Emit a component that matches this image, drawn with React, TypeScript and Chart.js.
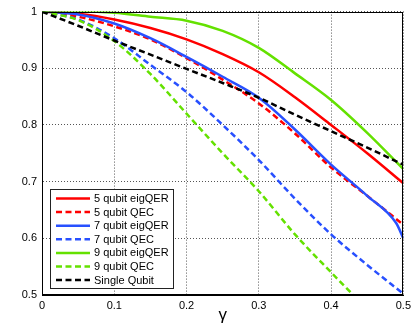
import React, { useEffect, useRef } from 'react';
import { Chart, registerables } from 'chart.js';

Chart.register(...registerables);

const gamma = [0, 0.05, 0.1, 0.15, 0.2, 0.25, 0.3, 0.35, 0.4, 0.45, 0.5];
const gamma7Eig = [0, 0.05, 0.1, 0.15, 0.2, 0.25, 0.3, 0.35, 0.4, 0.45, 0.49, 0.5];

const qubit5Eig = [1, 0.996, 0.986, 0.971, 0.951, 0.925, 0.893, 0.849, 0.8, 0.75, 0.697];
const qubit5QEC = [1, 0.991, 0.974, 0.951, 0.918, 0.88, 0.838, 0.785, 0.725, 0.675, 0.624];
const qubit7Eig = [1, 0.995, 0.979, 0.953, 0.92, 0.885, 0.848, 0.792, 0.73, 0.675, 0.627, 0.6];
const qubit7QEC = [1, 0.986, 0.953, 0.906, 0.858, 0.8, 0.738, 0.67, 0.607, 0.553, 0.502];
const qubit9Eig = [1, 1, 0.998, 0.991, 0.984, 0.966, 0.936, 0.891, 0.844, 0.786, 0.722];
const qubit9QEC = [1, 0.985, 0.948, 0.89, 0.82, 0.75, 0.683, 0.607, 0.54, 0.475, 0.41];
const singleQubit = [1, 0.975, 0.949, 0.924, 0.899, 0.874, 0.848, 0.818, 0.789, 0.76, 0.73];

const seriesLabels = [
  '5 qubit eigQER',
  '5 qubit QEC',
  '7 qubit eigQER',
  '7 qubit QEC',
  '9 qubit eigQER',
  '9 qubit QEC',
  'Single Qubit',
];

const xTickLabels = ['0', '0.1', '0.2', '0.3', '0.4', '0.5'];
const yTickLabels = ['0.5', '0.6', '0.7', '0.8', '0.9', '1'];
const xAxisTitle = 'γ';

const RED = '#ff0000';
const BLUE = '#2850ff';
const GREEN = 'rgb(100,225,0)';
const BLACK = '#000000';
const DASH = [6, 3.5];
const FONT = '"Liberation Sans", Arial, Helvetica, sans-serif';

const toPoints = (xs: number[], ys: number[]) => ys.map((y, i) => ({ x: xs[i], y }));

const frameAndLegend = {
  id: 'frameAndLegend',
  afterDatasetsDraw(chart: any) {
    const { ctx, chartArea } = chart;
    ctx.save();
    ctx.strokeStyle = '#000';
    ctx.lineWidth = 1;
    ctx.setLineDash([]);
    ctx.strokeRect(
      Math.round(chartArea.left) + 0.5,
      Math.round(chartArea.top) + 0.5,
      Math.round(chartArea.right - chartArea.left) - 1,
      Math.round(chartArea.bottom - chartArea.top) - 1
    );
    const x0 = Math.round(chartArea.left) + 8;
    const w = 123;
    const h = 99;
    const y0 = Math.round(chartArea.bottom) - 7 - h;
    ctx.fillStyle = '#fff';
    ctx.fillRect(x0, y0, w, h);
    ctx.strokeStyle = '#222';
    ctx.lineWidth = 1;
    ctx.strokeRect(x0 + 0.5, y0 + 0.5, w, h);
    chart.data.datasets.forEach((ds: any, i: number) => {
      const y = y0 + 9.5 + i * 13.6;
      ctx.strokeStyle = ds.borderColor;
      ctx.lineWidth = ds.borderWidth;
      ctx.setLineDash(ds.borderDash || []);
      ctx.beginPath();
      ctx.moveTo(x0 + 6, y);
      ctx.lineTo(x0 + 40, y);
      ctx.stroke();
      ctx.setLineDash([]);
      ctx.fillStyle = '#000';
      ctx.font = '11px ' + FONT;
      ctx.textBaseline = 'middle';
      ctx.textAlign = 'left';
      ctx.fillText(ds.label, x0 + 44, y + 0.5);
    });
    ctx.restore();
  },
};

export default function App() {
  const ref = useRef<HTMLCanvasElement>(null);

  useEffect(() => {
    document.body.style.margin = '0';
    const canvas = ref.current!;
    const defs = [
      { xs: gamma, ys: qubit5Eig, color: RED, dash: [] as number[] },
      { xs: gamma, ys: qubit5QEC, color: RED, dash: DASH },
      { xs: gamma7Eig, ys: qubit7Eig, color: BLUE, dash: [] as number[] },
      { xs: gamma, ys: qubit7QEC, color: BLUE, dash: DASH },
      { xs: gamma, ys: qubit9Eig, color: GREEN, dash: [] as number[] },
      { xs: gamma, ys: qubit9QEC, color: GREEN, dash: DASH },
      { xs: gamma, ys: singleQubit, color: BLACK, dash: DASH },
    ];
    const datasets = defs.map((d, i) => ({
      label: seriesLabels[i],
      data: toPoints(d.xs, d.ys),
      borderColor: d.color,
      backgroundColor: d.color,
      borderWidth: 2.5,
      borderDash: d.dash,
      pointRadius: 0,
      fill: false,
      cubicInterpolationMode: 'monotone' as const,
      order: defs.length - i,
    }));

    const chart = new Chart(canvas, {
      type: 'line',
      data: { datasets },
      options: {
        animation: false,
        responsive: false,
        maintainAspectRatio: false,
        devicePixelRatio: 1,
        layout: { padding: { top: 6, right: 8, left: 0, bottom: 0 } },
        plugins: {
          legend: { display: false },
          tooltip: { enabled: false },
        },
        scales: {
          x: {
            type: 'linear',
            min: 0,
            max: 0.5,
            afterFit: (s: any) => {
              s.height = 31;
            },
            ticks: {
              stepSize: 0.1,
              autoSkip: false,
              maxRotation: 0,
              padding: 4,
              color: '#000',
              font: { family: FONT, size: 11 },
              callback: (_v: any, i: number) => xTickLabels[i],
            },
            title: {
              display: true,
              text: xAxisTitle,
              color: '#000',
              font: { family: FONT, size: 17 },
              padding: { top: 1, bottom: 0 },
            },
            grid: { color: '#555', lineWidth: 1, drawTicks: false },
            border: { color: '#000', width: 1, dash: [1, 2] },
          },
          y: {
            type: 'linear',
            min: 0.5,
            max: 1,
            afterFit: (s: any) => {
              s.width = 42;
            },
            ticks: {
              stepSize: 0.1,
              autoSkip: false,
              padding: 5,
              color: '#000',
              font: { family: FONT, size: 11 },
              callback: (_v: any, i: number) => yTickLabels[i],
            },
            grid: { color: '#555', lineWidth: 1, drawTicks: false },
            border: { color: '#000', width: 1, dash: [1, 2] },
          },
        },
      },
      plugins: [frameAndLegend],
    });
    return () => chart.destroy();
  }, []);

  return (
    <div style={{ width: 415, height: 326 }}>
      <canvas ref={ref} width={415} height={326} style={{ display: 'block', width: 415, height: 326 }} />
    </div>
  );
}
